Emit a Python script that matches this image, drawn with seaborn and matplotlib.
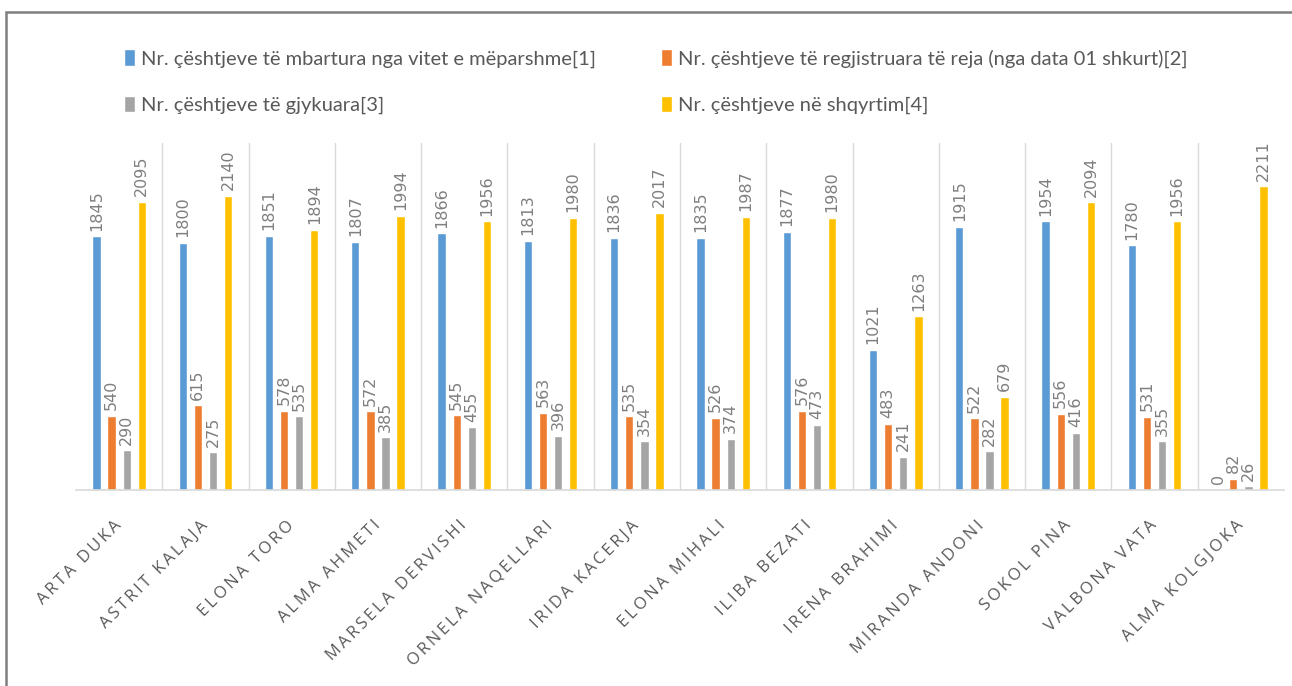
import pandas as pd
import numpy as np
import matplotlib.pyplot as plt
import seaborn as sns
from matplotlib.patches import Patch, Rectangle

# data
judges = ["ARTA DUKA", "ASTRIT KALAJA", "ELONA TORO", "ALMA AHMETI", "MARSELA DERVISHI",
          "ORNELA NAQELLARI", "IRIDA KACERJA", "ELONA MIHALI", "ILIBA BEZATI", "IRENA BRAHIMI",
          "MIRANDA ANDONI", "SOKOL PINA", "VALBONA VATA", "ALMA KOLGJOKA"]
series = ["Nr. çështjeve të mbartura nga vitet e mëparshme[1]",
          "Nr. çështjeve të regjistruara të reja (nga data 01 shkurt)[2]",
          "Nr. çështjeve të gjykuara[3]",
          "Nr. çështjeve në shqyrtim[4]"]
carried = [1845, 1800, 1851, 1807, 1866, 1813, 1836, 1835, 1877, 1021, 1915, 1954, 1780, 0]
registered = [540, 615, 578, 572, 545, 563, 535, 526, 576, 483, 522, 556, 531, 82]
judged = [290, 275, 535, 385, 455, 396, 354, 374, 473, 241, 282, 416, 355, 26]
pending = [2095, 2140, 1894, 1994, 1956, 1980, 2017, 1987, 1980, 1263, 679, 2094, 1956, 2211]
colors = ["#5B9BD5", "#ED7D31", "#A5A5A5", "#FFC000"]

df = pd.DataFrame({"judge": judges * 4,
                   "series": np.repeat(series, len(judges)),
                   "value": carried + registered + judged + pending})

sns.set_style("white")
plt.rcParams['font.family'] = ['Lato', 'DejaVu Sans']

fig = plt.figure(figsize=(12.92, 6.86), dpi=100)
ax = fig.add_axes([0.0588, 0.2857, 0.935, 0.506])

sns.barplot(data=df, x="judge", y="value", hue="series", palette=colors,
            width=0.7, gap=0.45, saturation=1, legend=False, ax=ax)

for c in ax.containers:
    ax.bar_label(c, rotation=90, padding=4, fontsize=11.5, color="#7F7F7F",
                 family="DejaVu Sans")

ax.set_ylim(0, 2525)
ax.set_xlim(-0.5, len(judges) - 0.5)
ax.set_yticks([])
ax.set_xlabel("")
ax.set_ylabel("")
ax.set_xticks(np.arange(len(judges) - 1) + 0.5, minor=True)
ax.grid(True, which="minor", axis="x", color="#D9D9D9", linewidth=1)
ax.tick_params(axis="x", which="both", length=0)
ax.tick_params(axis="x", which="major", pad=24)
for s in ["top", "right", "left"]:
    ax.spines[s].set_visible(False)
ax.spines["bottom"].set_color("#D9D9D9")
ax.spines["bottom"].set_linewidth(1.2)

# spaced-out category labels, like the original
ax.set_xticks(range(len(judges)))
ax.set_xticklabels(["\u2009".join(j) for j in judges], rotation=45, ha="right",
                   rotation_mode="anchor", va="center", fontsize=12, color="#595959",
                   family=["Open Sans", "DejaVu Sans"])

handles = [Patch(facecolor=c) for c in colors]
order = [0, 2, 1, 3]
fig.legend([handles[i] for i in order], [series[i] for i in order], ncol=2,
           loc="upper left", bbox_to_anchor=(0.082, 0.955), frameon=False,
           fontsize=14.5, labelcolor="#595959", handlelength=0.55, handleheight=0.9,
           handletextpad=0.3, columnspacing=3.2, labelspacing=1.4)

fig.add_artist(Rectangle((0.0046, -0.1), 1.2, 1.0825, transform=fig.transFigure,
                         fill=False, edgecolor="#7F7F7F", linewidth=1.8))

fig.savefig("out.png", dpi=100)
